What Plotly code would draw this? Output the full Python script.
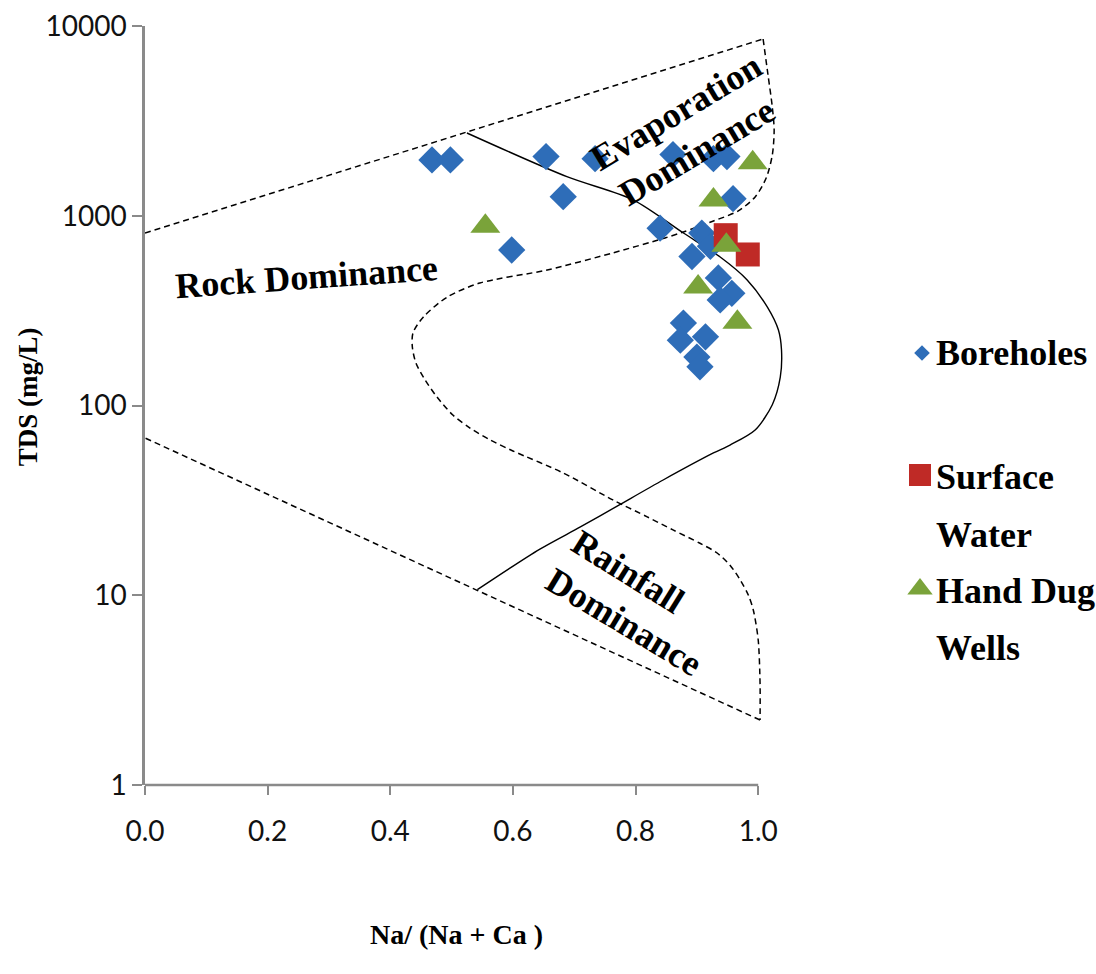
import plotly.graph_objects as go

# Na/(Na+Ca) ratio and TDS (mg/L) for each sample type
bh_ratio = [0.468, 0.498, 0.654, 0.682, 0.598, 0.734, 0.840, 0.861, 0.927, 0.949,
            0.959, 0.908, 0.892, 0.922, 0.935, 0.957, 0.938, 0.878, 0.873, 0.914,
            0.900, 0.905]
bh_tds = [1970, 1970, 2050, 1260, 660, 2000, 860, 2100, 2000, 2050,
          1230, 810, 610, 690, 470, 390, 360, 272, 221, 230,
          180, 160]

sw_ratio = [0.947, 0.983]
sw_tds = [790, 625]

hdw_ratio = [0.555, 0.991, 0.927, 0.948, 0.902, 0.966]
hdw_tds = [880, 1900, 1210, 700, 421, 275]

# Gibbs diagram field boundaries
upper_ratio = [0.0, 1.008]
upper_tds = [811, 8540]

envelope_ratio = [1.008, 1.016, 1.023, 1.026, 1.023, 1.013, 0.995, 0.967, 0.927, 0.878,
                  0.848, 0.763, 0.656, 0.546, 0.493, 0.454, 0.437, 0.436, 0.442, 0.457,
                  0.476, 0.502, 0.530, 0.563, 0.600, 0.682, 0.763, 0.819, 0.861, 0.905,
                  0.933, 0.954, 0.971, 0.984, 0.992, 1.000, 1.003, 1.003]
envelope_tds = [8540, 5520, 3740, 2830, 2090, 1580, 1256, 1059, 938, 821,
                764, 637, 518, 442, 373, 293, 241, 203, 167, 136,
                111, 89.1, 76.1, 65.8, 57.6, 44.1, 31.8, 25.9, 22.1, 18.8,
                16.7, 14.4, 12.0, 10.0, 8.36, 5.81, 3.45, 2.20]

lower_ratio = [1.003, 0.0]
lower_tds = [2.20, 67.4]

mixing_ratio = [0.525, 0.688, 0.796, 0.878, 0.938, 0.982, 1.015, 1.033, 1.038, 1.036,
                1.023, 0.995, 0.954, 0.927, 0.845, 0.770, 0.710, 0.644, 0.542]
mixing_tds = [2730, 1607, 1213, 811, 606, 459, 330, 250, 196, 141,
              101, 74.3, 61.9, 56.2, 40.5, 29.5, 22.9, 17.5, 10.7]

x_ticks = [0.0, 0.2, 0.4, 0.6, 0.8, 1.0]
y_ticks = [1, 10, 100, 1000, 10000]

# key text, one line per row
series_names = ["Boreholes", "Surface", "Water", "Hand Dug", "Wells"]

SERIF = "Liberation Serif"
SANS = "Lato"
AXIS_GREY = "#8a8a8a"
DASH = "6px,4px"
BLUE, RED, GREEN = "#2E6DB8", "#BF2A26", "#7AA33A"

W, H = 1096, 974
L, R, T, B = 145, 0, 26, 189
PLOT_W = 650                       # width of the diagram itself
X_DOMAIN_END = PLOT_W / (W - L - R)

fig = go.Figure()

# field boundaries
fig.add_trace(go.Scatter(x=upper_ratio, y=upper_tds, mode="lines", showlegend=False,
                         hoverinfo="skip",
                         line=dict(color="black", width=1.5, dash=DASH)))
fig.add_trace(go.Scatter(x=envelope_ratio, y=envelope_tds, mode="lines", showlegend=False,
                         hoverinfo="skip",
                         line=dict(color="black", width=1.5, dash=DASH, shape="spline",
                                   smoothing=0.8)))
fig.add_trace(go.Scatter(x=lower_ratio, y=lower_tds, mode="lines", showlegend=False,
                         hoverinfo="skip",
                         line=dict(color="black", width=1.5, dash=DASH)))
fig.add_trace(go.Scatter(x=mixing_ratio, y=mixing_tds, mode="lines", showlegend=False,
                         hoverinfo="skip",
                         line=dict(color="black", width=1.4, shape="spline",
                                   smoothing=0.8)))

# samples
fig.add_trace(go.Scatter(x=bh_ratio, y=bh_tds, mode="markers", name="Boreholes",
                         showlegend=False,
                         marker=dict(symbol="diamond", size=21, color=BLUE,
                                     line=dict(width=0))))
fig.add_trace(go.Scatter(x=sw_ratio, y=sw_tds, mode="markers", name="Surface Water",
                         showlegend=False,
                         marker=dict(symbol="square", size=24, color=RED,
                                     line=dict(width=0))))
fig.add_trace(go.Scatter(x=hdw_ratio, y=hdw_tds, mode="markers", name="Hand Dug Wells",
                         showlegend=False,
                         marker=dict(symbol="triangle-up", size=26, color=GREEN,
                                     line=dict(width=0))))

# key on a pixel-scaled side panel (x2/y2)
key_rows_y = [353, 477, 535, 591, 648]
fig.add_trace(go.Scatter(x=[922], y=[key_rows_y[0]], xaxis="x2", yaxis="y2",
                         mode="markers", showlegend=False, hoverinfo="skip",
                         marker=dict(symbol="diamond", size=12, color=BLUE)))
fig.add_trace(go.Scatter(x=[920], y=[key_rows_y[1] - 2], xaxis="x2", yaxis="y2",
                         mode="markers", showlegend=False, hoverinfo="skip",
                         marker=dict(symbol="square", size=22, color=RED)))
fig.add_trace(go.Scatter(x=[920], y=[key_rows_y[3] - 2], xaxis="x2", yaxis="y2",
                         mode="markers", showlegend=False, hoverinfo="skip",
                         marker=dict(symbol="triangle-up", size=22, color=GREEN)))
for name, yy in zip(series_names, key_rows_y):
    fig.add_annotation(x=934, y=yy, xref="x2", yref="y2", text=name, showarrow=False,
                       xanchor="left", yanchor="middle",
                       font=dict(family=SERIF, size=36, color="black", weight="bold"))

# x axis baseline stops at 1.0
fig.add_shape(type="line", xref="x", yref="paper", x0=0, x1=1.0, y0=0, y1=0,
              line=dict(color=AXIS_GREY, width=2.5))

label_font = dict(family=SERIF, size=36, color="black", weight="bold")
field_labels = [
    ("Rock Dominance", 0.263, 2.679, -4),
    ("Evaporation", 0.866, 3.547, -31),
    ("Dominance", 0.900, 3.336, -31),
    ("Rainfall", 0.788, 1.123, 32),
    ("Dominance", 0.781, 0.859, 31),
]
for text, x, ylog, ang in field_labels:
    fig.add_annotation(x=x, y=ylog, xref="x", yref="y", text=text, showarrow=False,
                       textangle=ang, xanchor="center", yanchor="middle", font=label_font)

# axis titles
fig.add_annotation(x=(28 - L) / (W - L - R), y=0.511, xref="paper", yref="paper",
                   text="TDS (mg/L)", showarrow=False, textangle=-90,
                   xanchor="center", yanchor="middle",
                   font=dict(family=SERIF, size=27, color="black", weight="bold"))
fig.add_annotation(x=(456 - L) / (W - L - R), y=-0.197, xref="paper", yref="paper",
                   text="Na/ (Na + Ca )", showarrow=False,
                   xanchor="center", yanchor="middle",
                   font=dict(family=SERIF, size=28, color="black", weight="bold"))

fig.update_layout(
    width=W, height=H,
    margin=dict(l=L, r=R, t=T, b=B, autoexpand=False),
    paper_bgcolor="white", plot_bgcolor="rgba(0,0,0,0)",
    font=dict(family=SERIF, color="black"),
    showlegend=False,
    xaxis=dict(domain=[0, X_DOMAIN_END], range=[0, 1.06], tickvals=x_ticks,
               ticktext=[f"{v:.1f}" for v in x_ticks],
               showline=False, showgrid=False, zeroline=False,
               ticks="outside", ticklen=9, tickwidth=2, tickcolor=AXIS_GREY,
               ticklabelstandoff=12,
               tickfont=dict(family=SANS, size=28, color="#111")),
    yaxis=dict(type="log", range=[0, 4], tickvals=y_ticks,
               ticktext=[str(v) for v in y_ticks],
               showline=True, linecolor=AXIS_GREY, linewidth=2.5,
               showgrid=False, zeroline=False,
               ticks="outside", ticklen=10, tickwidth=2, tickcolor=AXIS_GREY,
               tickfont=dict(family=SANS, size=28, color="#111")),
    xaxis2=dict(domain=[X_DOMAIN_END, 1], range=[L + PLOT_W, W], anchor="y2",
                visible=False, fixedrange=True),
    yaxis2=dict(domain=[0, 1], range=[H - B, T], anchor="x2",
                visible=False, fixedrange=True),
)

fig.write_html("out.html")
